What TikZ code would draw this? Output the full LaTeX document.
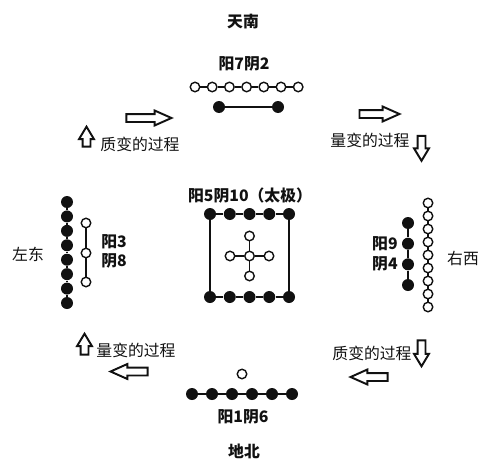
\documentclass[tikz,border=0pt]{standalone}
\usepackage{fontspec}
\usepackage{xcolor}
\usetikzlibrary{shapes.arrows}
\newfontfamily\cjk{Noto Sans CJK SC}
\definecolor{inkc}{HTML}{111111}
\tikzset{
  yin/.style={circle, fill=inkc, inner sep=0pt, minimum size=2.4mm},
  yang/.style={circle, draw=inkc, fill=white, line width=0.8pt, inner sep=0pt, minimum size=1.9mm},
  link/.style={draw=inkc, line width=0.7pt},
  blockarrow/.style={single arrow, draw=inkc, line width=1.1pt, inner xsep=0pt, inner ysep=0.6mm, single arrow head extend=0.7mm, single arrow tip angle=48},
  uparrow/.style={blockarrow, inner xsep=0.6mm, inner ysep=0pt, single arrow tip angle=62, shape border rotate=90},
  downarrow/.style={blockarrow, inner xsep=0.6mm, inner ysep=0pt, single arrow tip angle=62, shape border rotate=270},
  lbl/.style={font=\cjk\bfseries\fontsize{9}{11}\selectfont, text=inkc, inner sep=0pt},
  proc/.style={font=\cjk\fontsize{9}{11}\selectfont, text=inkc, inner sep=0pt},
}

\begin{document}
\begin{tikzpicture}[x=0.02cm, y=-0.02cm]
\useasboundingbox (0,0) rectangle (499,466);
\node[lbl] (south) at (243,22) {天南};
\node[lbl] (toplbl) at (244,64) {阳7阴2};
\foreach \i in {1,...,7} \node[yang] (ty\i) at ({195+17.2*(\i-1)},87) {};
\foreach \i [count=\j from 2] in {1,...,6} \draw[link] (ty\i) -- (ty\j);
\node[yin] (tb1) at (219,107) {};
\node[yin] (tb2) at (278,107) {};
\draw[link] (tb1) -- (tb2);

\node[lbl] (midlbl) at (250,196) {阳5阴10（太极）};
\foreach \i in {1,...,5} {
  \node[yin] (cu\i) at ({210+19.75*(\i-1)},214) {};
  \node[yin] (cd\i) at ({210+19.75*(\i-1)},297) {};
}
\foreach \i [count=\j from 2] in {1,...,4} {
  \draw[link] (cu\i) -- (cu\j);
  \draw[link] (cd\i) -- (cd\j);
}
\draw[link] (cu1) -- (cd1);
\draw[link] (cu5) -- (cd5);
\node[yang] (cc) at (249.5,256) {};
\node[yang] (cn) at (249.5,236) {};
\node[yang] (cs) at (249.5,276) {};
\node[yang] (cw) at (230,256) {};
\node[yang] (ce) at (269,256) {};
\foreach \k in {cn,cs,cw,ce} \draw[link] (cc) -- (\k);

\node[proc] (east) at (28,254) {左东};
\foreach \i in {1,...,8} \node[yin] (ly\i) at (67,{202+14.43*(\i-1)}) {};
\foreach \i [count=\j from 2] in {1,...,7} \draw[link] (ly\i) -- (ly\j);
\node[yang] (lw1) at (86,223) {};
\node[yang] (lw2) at (86,253) {};
\node[yang] (lw3) at (86,282) {};
\draw[link] (lw1) -- (lw2);
\draw[link] (lw2) -- (lw3);
\node[lbl, anchor=west] (leftyang) at (101,242) {阳3};
\node[lbl, anchor=west] (leftyin) at (101,261) {阴8};

\node[proc] (west) at (463,258) {右西};
\foreach \i in {1,...,9} \node[yang] (rw\i) at (428,{203+13*(\i-1)}) {};
\foreach \i [count=\j from 2] in {1,...,8} \draw[link] (rw\i) -- (rw\j);
\foreach \i in {1,...,4} \node[yin] (ry\i) at (408,{223+20.67*(\i-1)}) {};
\foreach \i [count=\j from 2] in {1,...,3} \draw[link] (ry\i) -- (ry\j);
\node[lbl, anchor=east] (rightyang) at (398,244) {阳9};
\node[lbl, anchor=east] (rightyin) at (398,264) {阴4};

\node[yang] (bw) at (242,374) {};
\foreach \i in {1,...,6} \node[yin] (bb\i) at ({192+20*(\i-1)},394) {};
\foreach \i [count=\j from 2] in {1,...,5} \draw[link] (bb\i) -- (bb\j);
\node[lbl] (botlbl) at (243,417) {阳1阴6};
\node[lbl] (north) at (244,451) {地北};

\node[blockarrow, minimum height=9mm] (tlr) at (144.5,118) {};
\node[uparrow, minimum height=4mm] (tlu) at (86.5,140) {};
\node[proc] (tltxt) at (140,144) {质变的过程};
\node[blockarrow, minimum height=8mm] (trr) at (375,114) {};
\node[downarrow, minimum height=5mm] (trd) at (421.5,145) {};
\node[proc] (trtxt) at (370,140) {量变的过程};
\node[downarrow, minimum height=5.2mm] (brd) at (421.5,350) {};
\node[blockarrow, minimum height=7.4mm, shape border rotate=180] (brl) at (373.5,377) {};
\node[proc] (brtxt) at (372,353) {质变的过程};
\node[uparrow, minimum height=4.2mm] (blu) at (84.5,347.5) {};
\node[blockarrow, minimum height=7.4mm, shape border rotate=180] (bll) at (133.5,371.5) {};
\node[proc] (bltxt) at (136,350) {量变的过程};
\end{tikzpicture}
\end{document}
